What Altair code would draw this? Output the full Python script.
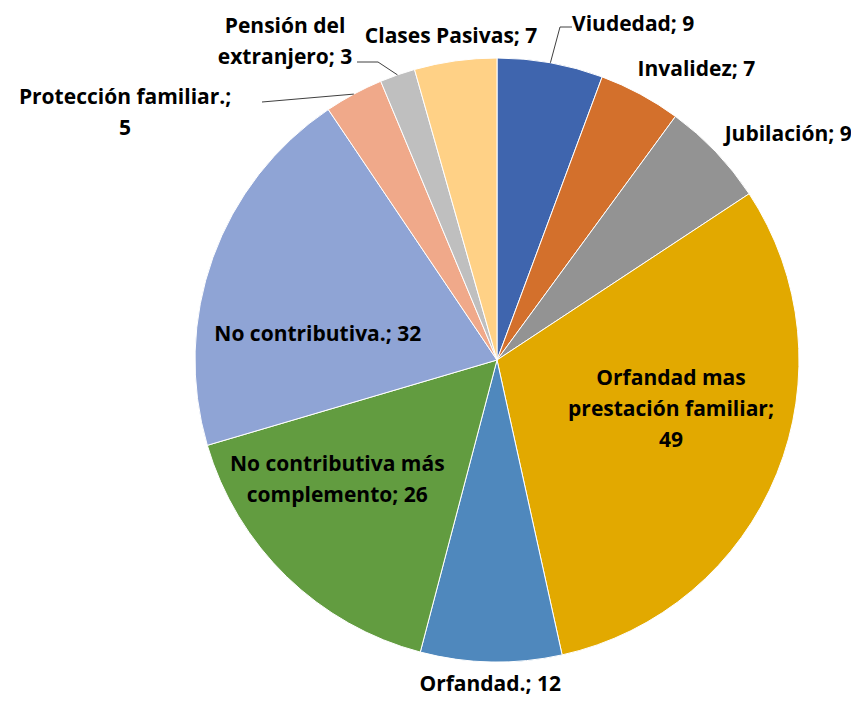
import altair as alt
import pandas as pd
import numpy as np

categories = ["Viudedad", "Invalidez", "Jubilación", "Orfandad mas prestación familiar",
              "Orfandad.", "No contributiva más complemento", "No contributiva.",
              "Protección familiar.", "Pensión del extranjero", "Clases Pasivas"]
values = [9, 7, 9, 49, 12, 26, 32, 5, 3, 7]
labels = ["Viudedad; 9", "Invalidez; 7", "Jubilación; 9",
          "Orfandad mas\nprestación familiar;\n49", "Orfandad.; 12",
          "No contributiva más\ncomplemento; 26", "No contributiva.; 32",
          "Protección familiar.;\n5", "Pensión del\nextranjero; 3", "Clases Pasivas; 7"]
colors = ["#3F65AE", "#D3702C", "#939393", "#E2A900", "#4F88BD",
          "#629C40", "#8FA4D5", "#F0A98A", "#BFBFBF", "#FFD186"]

# label placement: angle (deg clockwise from top) and distance from centre
label_angle = [22.1, 34.5, 52.3, 106.0, 181.2, 233.0, 278.0, 303.5, 326.3, 351.9]
label_radius = [362, 352, 368, 181, 325, 200, 181, 446, 382, 326]

CX, CY, R = 489, 352, 302
LH = 31

# text anchors: block centre, shifted so that multi-line blocks are centred
nlines = [lab.count("\n") + 1 for lab in labels]
la = np.deg2rad(label_angle)
tx = CX + np.array(label_radius) * np.sin(la)
ty = CY - np.array(label_radius) * np.cos(la) - (np.array(nlines) - 1) * LH / 2

df = pd.DataFrame({
    "cat": categories,
    "value": values,
    "order": list(range(len(categories))),
    "label": labels,
    "tx": tx,
    "ty": ty,
})

# leader lines: start at slice mid-angle on the rim, then elbow & end near label
tot = sum(values)
cum = np.cumsum([0] + values)
mid = {c: (cum[i] + values[i] / 2) / tot * 2 * np.pi for i, c in enumerate(categories)}
leaders = {
    "Viudedad": [(63, -333), (75, -333)],
    "Pensión del extranjero": [(-119, -298), (-140, -298)],
    "Protección familiar.": [(-235, -258)],
}
rows = []
for c, pts in leaders.items():
    a = mid[c]
    start = (R * np.sin(a), -R * np.cos(a))
    for i, (dx, dy) in enumerate([start] + pts):
        rows.append({"grp": c, "i": i, "x": CX + dx, "y": CY + dy})
ldf = pd.DataFrame(rows)

color_scale = alt.Scale(domain=categories, range=colors)

pie = alt.Chart(df).mark_arc(outerRadius=R, stroke="white", strokeWidth=1).encode(
    theta=alt.Theta("value:Q", stack=True),
    order=alt.Order("order:Q"),
    color=alt.Color("cat:N", scale=color_scale, legend=None),
    x=alt.value(CX),
    y=alt.value(CY),
)

text = alt.Chart(df).mark_text(
    font="Open Sans", fontWeight="bold", fontSize=21, lineBreak="\n", lineHeight=LH,
    align="center", baseline="middle", color="black",
).encode(
    x=alt.X("tx:Q", scale=None),
    y=alt.Y("ty:Q", scale=None),
    text="label:N",
)

lines = alt.Chart(ldf).mark_line(color="#404040", strokeWidth=1).encode(
    x=alt.X("x:Q", scale=None),
    y=alt.Y("y:Q", scale=None),
    detail="grp:N",
    order="i:O",
)

chart = alt.layer(pie, lines, text).properties(
    width=843, height=688, autosize="none", padding=0
).configure_view(stroke=None)

chart.save("out.html", embed_options={"renderer": "svg", "actions": False})
